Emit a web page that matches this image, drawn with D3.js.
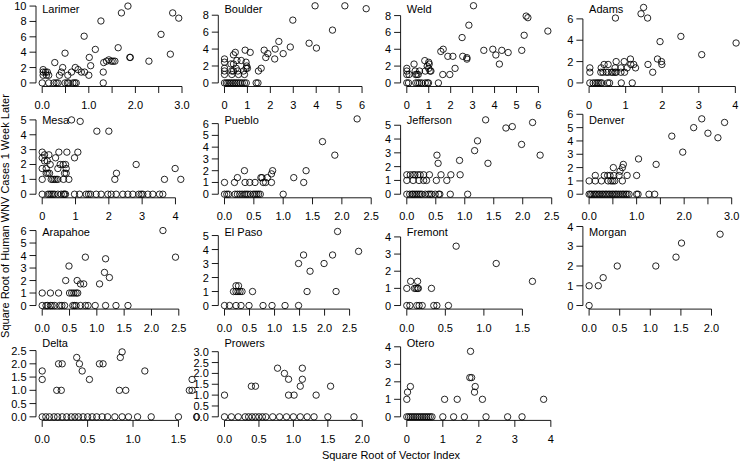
<!DOCTYPE html>
<html><head><meta charset="utf-8">
<script src="https://cdn.jsdelivr.net/npm/d3@7"></script>
<style>body{margin:0;background:#fff} text{font-family:"Liberation Sans",Arial,Helvetica,sans-serif;fill:#000}</style>
</head><body><svg id="c" width="741" height="464"></svg>
<script>
const counties = ["Larimer","Boulder","Weld","Adams","Mesa","Pueblo","Jefferson","Denver","Arapahoe","El Paso","Fremont","Morgan","Delta","Prowers","Otero"];

const larimer = [[0.02,1.73],[0.02,1.41],[0.07,1.41],[0.11,1.41],[0.02,1],[0.09,1],[0.14,1],[0,0],[0.14,0],[0.25,0],[0.3,0],[0.34,0],[0.49,0],[0.54,0],[0.57,0],[0.66,0],[0.7,0],[0.73,0],[1.31,0],[0.27,2.65],[0.44,2],[0.41,1.41],[0.37,1],[0.55,1],[0.49,3.87],[0.63,1.41],[0.71,2],[0.77,1.73],[0.84,1.41],[0.91,1.41],[1.0,1],[1.04,2.24],[1.01,3.32],[0.9,6.08],[1.14,4.36],[1.26,8.06],[1.31,1.41],[1.32,2.65],[1.38,2.83],[1.43,3],[1.48,2.83],[1.52,2.83],[1.56,2.83],[1.63,4.58],[1.7,9.11],[1.84,10],[1.88,3.32],[1.89,3.32],[2.29,2.83],[2.55,6.32],[2.75,3.74],[2.8,9.11],[2.93,8.43]];
const boulder = [[3.95,9.11],[5.25,9.11],[6.18,8.77],[2.98,7.42],[4.71,6.24],[2.37,4.9],[3.69,4.69],[4.01,4.12],[2.87,4.24],[2.21,4],[1.73,3.87],[1.89,3.46],[1.8,3],[2.56,3.46],[2.19,2.83],[0.9,3.87],[1.12,3.61],[0.47,3.61],[0.39,3.32],[0,2.83],[0,2.45],[0.28,2.24],[0.39,2.24],[0.54,2.65],[0.73,2.65],[0.94,2.45],[0.97,2],[0.94,1.73],[1.0,1.73],[0,1.73],[0,1.41],[0.32,1.41],[0.39,1.41],[0.51,1.73],[0.58,1.41],[0.83,1.41],[0,1],[0.32,1],[0.61,1],[0.87,1],[1.48,1.41],[1.6,1.73],[0,0],[0.08,0],[0.15,0],[0.22,0],[0.3,0],[0.38,0],[0.45,0],[0.52,0],[0.6,0],[0.68,0],[0.77,0],[0.87,0],[0.95,0],[1.38,0],[1.46,0]];
const weld = [[3.04,9.17],[5.44,7.94],[5.52,7.75],[2.83,6.86],[6.43,6.16],[2.52,5.39],[5.35,5.66],[1.66,4],[1.55,3.74],[3.51,3.87],[3.92,4],[4.33,3.87],[4.62,3.61],[5.24,3.87],[4.06,3.32],[1.87,3.16],[2.1,3.16],[2.55,3.16],[2.74,3],[2.74,2.83],[4.22,2.24],[2.2,1.73],[1.64,1],[1.96,1],[1.44,0],[0.33,2.24],[0.82,2.65],[1.0,2.45],[1.02,2.24],[0.93,2],[1.0,1.73],[0,1.73],[0,1.41],[0.38,1.41],[0.58,1.41],[0.84,1.41],[1.06,1.41],[1.1,1.41],[0,1],[0.1,1],[0.4,1],[0.46,1],[0.52,1],[0,0],[0.08,0],[0.41,0],[0.5,0],[0.58,0],[0.68,0],[0.84,0],[0.94,0],[0.99,0]];
const adams = [[1.49,7.07],[1.42,6.48],[1.6,6.08],[0.72,6.08],[2.51,4.36],[1.94,3.87],[4.02,3.74],[3.08,2.65],[1.13,2.24],[1.87,2.24],[1.98,2],[1.99,1.73],[1.61,1.73],[1.14,1.73],[1.22,1.73],[1.27,1.41],[0.96,2],[0.74,2],[0.41,1.73],[0.52,1.73],[0.33,1.41],[0.02,1.41],[0.02,1],[0.32,1],[0.38,1],[0.47,1],[0.52,1],[0.61,1],[0.65,1],[0.71,1],[0.74,1],[0.71,1.41],[0.87,1.41],[1.04,1.41],[0.87,1],[0.97,1],[1.74,1],[0.02,0],[0.11,0],[0.17,0],[0.22,0],[0.26,0],[0.31,0],[0.35,0],[0.51,0],[0.56,0],[0.88,0],[1.18,0]];
const mesa = [[0.88,5],[1.14,4.9],[1.64,4.24],[2.0,4.24],[0,2.83],[0,2.45],[0.07,2.65],[0.15,2.24],[0.2,2.65],[0.07,2.24],[0.24,2],[0,1.73],[0.12,1.73],[0.5,2.83],[0.4,2.45],[0.74,2.83],[1.07,2.83],[0.97,2.45],[0.54,2],[0.63,2],[0.7,2],[0.47,1.73],[0.72,1.73],[0.72,1.41],[0.12,1.41],[0.17,1.41],[0.22,1.41],[0.67,1.41],[0,1],[0.27,1],[0.32,1],[0.37,1],[0.42,1],[0.47,1],[0.64,1],[0.8,1],[2.82,2],[2.23,1.41],[2.18,1],[3.99,1.73],[3.67,1],[4.16,1],[0,0],[0.17,0],[0.22,0],[0.27,0],[0.32,0],[0.37,0],[0.47,0],[0.57,0],[0.64,0],[0.67,0],[0.7,0],[0.97,0],[1.12,0],[1.32,0],[1.39,0],[1.45,0],[1.62,0],[1.77,0],[1.97,0],[2.07,0],[2.22,0],[2.42,0],[2.57,0],[2.72,0],[2.9,0],[2.97,0],[3.02,0],[3.17,0],[3.32,0],[3.52,0],[3.62,0]];
const pueblo = [[2.26,6.4],[1.67,4.47],[1.88,3.32],[1.39,2],[0.34,2],[0.82,2],[0.8,1.73],[0.22,1.41],[0.62,1.41],[0.64,1.41],[0.73,1.41],[1.18,1.41],[0,1],[0.17,1],[0.35,1],[0.43,1],[0.52,1],[0.66,1],[0.7,1],[0.8,1],[1.35,1],[0,0],[0.04,0],[0.07,0],[0.18,0],[0.22,0],[0.26,0],[0.3,0],[0.34,0],[0.37,0],[0.4,0],[0.44,0],[0.49,0],[0.52,0],[0.55,0],[0.58,0],[0.61,0],[1.0,0]];
const jefferson = [[1.36,5.39],[1.71,4.8],[1.82,4.9],[2.17,5.2],[1.22,3.87],[1.17,3.16],[1.98,3.61],[2.3,2.83],[1.4,2.24],[0.91,2.45],[0.52,2.83],[0.54,2.24],[0.39,1.41],[0.59,1.41],[0.76,1.41],[0.92,1.41],[0,1.41],[0.06,1.41],[0.11,1.41],[0.14,1.41],[0.19,1.41],[0.23,1.41],[0.29,1.41],[0,1],[0.11,1],[0.21,1],[0.29,1],[0.34,1],[0.51,1],[0.69,1],[0,0],[0.05,0],[0.09,0],[0.11,0],[0.14,0],[0.17,0],[0.2,0],[0.23,0],[0.26,0],[0.32,0],[0.37,0],[0.4,0],[0.43,0],[0.49,0],[0.55,0],[0.57,0],[0.75,0],[1.05,0]];
const denver = [[2.37,5.66],[2.85,5.39],[2.2,5],[2.5,4.58],[2.71,4.24],[1.74,4.36],[1.97,3.16],[1.04,2.65],[1.41,2.24],[0.72,2.24],[0.7,2],[0.65,1.73],[0.51,2],[0.32,1.41],[0.39,1.41],[0.44,1.41],[0.13,1.41],[0.52,1.41],[0.63,1.41],[0.8,1.41],[1.0,1.41],[0,1],[0.13,1],[0.26,1],[0.4,1],[0.46,1],[0.5,1],[0.54,1],[0.7,1],[0,0],[0.03,0],[0.06,0],[0.1,0],[0.13,0],[0.16,0],[0.2,0],[0.23,0],[0.27,0],[0.3,0],[0.34,0],[0.37,0],[0.41,0],[0.44,0],[0.48,0],[0.51,0],[0.55,0],[0.58,0],[0.62,0],[0.66,0],[0.7,0],[0.73,0],[0.77,0],[0.8,0],[0.84,0],[1.0,0],[1.03,0],[1.26,0],[1.38,0]];
const arapahoe = [[2.21,6],[2.44,3.87],[0.79,3.87],[1.16,3.74],[0.49,3.16],[1.14,2.65],[1.23,2.24],[0.43,2],[0.64,2],[0.7,1.73],[0.76,1.73],[1.05,1.73],[0,1],[0.15,1],[0.3,1],[0.5,1],[0.54,1],[0.58,1],[0.62,1],[0.65,1],[0,0],[0.07,0],[0.1,0],[0.15,0],[0.18,0],[0.23,0],[0.32,0],[0.36,0],[0.41,0],[0.56,0],[0.59,0],[0.62,0],[0.7,0],[0.79,0],[0.84,0],[0.97,0],[1.16,0],[1.35,0],[1.57,0]];
const elPaso = [[2.26,5.29],[2.68,3.87],[1.58,3.61],[2.16,3.61],[1.48,3],[1.99,3],[1.71,2.45],[1.65,1],[2.23,1],[0.56,1],[0.23,1.41],[0.28,1.41],[0.18,1],[0.23,1],[0.27,1],[0.31,1],[0.35,1],[0,0],[0.1,0],[0.23,0],[0.33,0],[0.49,0],[0.77,0],[0.95,0],[1.21,0],[1.48,0]];
const fremont = [[0.64,3.46],[1.16,2.45],[1.63,1.41],[0.05,1.41],[0.14,1.41],[0,1],[0.1,1],[0.12,1],[0.14,1],[0.15,1],[0.32,1],[0,0],[0.04,0],[0.13,0],[0.16,0],[0.2,0],[0.35,0],[0.39,0],[0.54,0]];
const morgan = [[0,0],[0,1],[0.15,1],[0.23,1.41],[0.46,2],[1.09,2],[1.42,2.45],[1.51,3.16],[2.14,3.61]];
const delta = [[0,1.73],[0,1.41],[0.16,1],[0.21,1],[0.18,2],[0.22,2],[0.38,2.24],[0.41,2],[0.44,1.73],[0.52,1.41],[0.63,2],[0.67,2],[0.88,2.45],[0.86,2.24],[0.85,1],[0.92,1],[1.13,1.73],[1.65,1.41],[1.62,1],[1.65,1],[0,0],[0.04,0],[0.08,0],[0.13,0],[0.17,0],[0.22,0],[0.27,0],[0.32,0],[0.36,0],[0.4,0],[0.45,0],[0.5,0],[0.55,0],[0.6,0],[0.66,0],[0.72,0],[0.8,0],[0.88,0],[0.95,0],[1.05,0],[1.2,0],[1.5,0],[1.7,0]];
const prowers = [[0,1],[0.39,1.41],[0.45,1.41],[0.77,2.24],[0.87,2],[0.93,1.73],[1.13,2.24],[1.13,1.73],[1.1,1.41],[1.54,1.41],[0.93,1],[1.01,1],[1.33,1],[0,0],[0.1,0],[0.2,0],[0.3,0],[0.35,0],[0.4,0],[0.45,0],[0.5,0],[0.55,0],[0.6,0],[0.7,0],[0.8,0],[0.9,0],[1.0,0],[1.1,0],[1.2,0],[1.3,0],[1.5,0],[1.88,0]];
const otero = [[0.02,1.41],[0.1,1.73],[0,1],[1.77,3.74],[1.8,2.24],[1.75,2.24],[1.9,1.73],[1.88,1.41],[2.1,1],[1.05,1],[1.4,1],[3.8,1],[0,0],[0.05,0],[0.1,0],[0.15,0],[0.2,0],[0.25,0],[0.3,0],[0.35,0],[0.4,0],[0.45,0],[0.5,0],[0.55,0],[0.6,0],[0.65,0],[0.7,0],[1.0,0],[1.3,0],[1.6,0],[2.2,0],[2.8,0],[3.2,0]];

const seriesList = [larimer,boulder,weld,adams,mesa,pueblo,jefferson,denver,arapahoe,elPaso,fremont,morgan,delta,prowers,otero];

// axis upper limits (lower limit is 0 for all)
const xMax = [3.06,6.22,6.5,3.9,4.28,2.43,2.46,3.0,2.61,2.85,1.85,2.33,1.57,2.07,3.96];
const yMax = [10,9.08,9.13,7.2,5.17,6.53,5.57,5.77,6.15,5.49,4.48,3.89,2.9,3.54,4.39];

const xTicks = [
 [0,0.5,1,1.5,2,2.5,3],[0,1,2,3,4,5,6],[0,1,2,3,4,5,6],[0,1,2,3,4],
 [0,1,2,3,4],[0,0.5,1,1.5,2,2.5],[0,0.5,1,1.5,2,2.5],[0,0.5,1,1.5,2,2.5,3],
 [0,0.5,1,1.5,2,2.5],[0,0.5,1,1.5,2,2.5],[0,0.5,1,1.5],[0,0.5,1,1.5,2],
 [0,0.5,1,1.5],[0,0.5,1,1.5,2],[0,1,2,3,4]];
const xTickLabels = [
 ["0.0","","1.0","","2.0","","3.0"],["0","1","2","3","4","5","6"],["0","1","2","3","4","5","6"],["0","1","2","3","4"],
 ["0","1","2","3","4"],["0.0","0.5","1.0","1.5","2.0","2.5"],["0.0","0.5","1.0","1.5","2.0","2.5"],["0.0","","1.0","","2.0","","3.0"],
 ["0.0","0.5","1.0","1.5","2.0","2.5"],["0.0","0.5","1.0","1.5","2.0","2.5"],["0.0","0.5","1.0","1.5"],["0.0","0.5","1.0","1.5","2.0"],
 ["0.0","0.5","1.0","1.5"],["0.0","0.5","1.0","1.5","2.0"],["0","1","2","3","4"]];
const yTicks = [
 [0,2,4,6,8,10],[0,2,4,6,8],[0,2,4,6,8],[0,2,4,6],
 [0,1,2,3,4,5],[0,1,2,3,4,5,6],[0,1,2,3,4,5],[0,1,2,3,4,5,6],
 [0,1,2,3,4,5,6],[0,1,2,3,4,5],[0,1,2,3,4],[0,1,2,3,4],
 [0,0.5,1,1.5,2,2.5],[0,0.5,1,1.5,2,2.5,3],[0,1,2,3,4]];
const yTickLabels = yTicks.map((t,i)=> i===12||i===13 ? t.map(v=>v.toFixed(1)) : t.map(v=>String(v)));

const yTitle = "Square Root of Human WNV Cases 1 Week Later";
const xTitle = "Square Root of Vector Index";

const svg = d3.select("#c");
const colStep = 182.3, rowStep = 111.3, left0 = 36.5, top0 = 3, W = 154, H = 83;
const fs = 11;

seriesList.forEach((data,i)=>{
  const r = Math.floor(i/4), c = i%4;
  const L = left0 + c*colStep, T = top0 + r*rowStep;
  const x = d3.scaleLinear().domain([-0.04*xMax[i], 1.04*xMax[i]]).range([L, L+W]);
  const y = d3.scaleLinear().domain([-0.04*yMax[i], 1.04*yMax[i]]).range([T+H, T]);
  const g = svg.append("g");
  const xt = xTicks[i];
  const ax = g.append("g").attr("transform",`translate(0,${T+H})`);
  ax.append("line").attr("x1",x(xt[0])).attr("x2",x(xt[xt.length-1])).attr("y1",0.5).attr("y2",0.5).attr("stroke","#000").attr("stroke-width",0.9);
  xt.forEach((v,k)=>{
    ax.append("line").attr("x1",x(v)).attr("x2",x(v)).attr("y1",0.5).attr("y2",7).attr("stroke","#000").attr("stroke-width",0.9);
    ax.append("text").attr("x",x(v)).attr("y",23).attr("text-anchor","middle").attr("font-size",fs).text(xTickLabels[i][k]);
  });
  const yt = yTicks[i];
  const ay = g.append("g").attr("transform",`translate(${L},0)`);
  ay.append("line").attr("x1",-0.5).attr("x2",-0.5).attr("y1",y(yt[0])).attr("y2",y(yt[yt.length-1])).attr("stroke","#000").attr("stroke-width",0.9);
  yt.forEach((v,k)=>{
    ay.append("line").attr("x1",-0.5).attr("x2",-7).attr("y1",y(v)).attr("y2",y(v)).attr("stroke","#000").attr("stroke-width",0.9);
    ay.append("text").attr("x",-10).attr("y",y(v)+4).attr("text-anchor","end").attr("font-size",fs).text(yTickLabels[i][k]);
  });
  g.append("g").selectAll("circle").data(data).join("circle")
    .attr("cx",d=>x(d[0])).attr("cy",d=>y(d[1])).attr("r",3.2)
    .attr("fill","none").attr("stroke","#000").attr("stroke-width",0.85);
  g.append("text").attr("x",x(0)).attr("y",T+10).attr("font-size",fs).text(counties[i]);
});

svg.append("text").attr("transform",`translate(9,216) rotate(-90)`).attr("text-anchor","middle").attr("font-size",11).text(yTitle);
svg.append("text").attr("x",391).attr("y",459).attr("text-anchor","middle").attr("font-size",11).text(xTitle);
</script></body></html>
